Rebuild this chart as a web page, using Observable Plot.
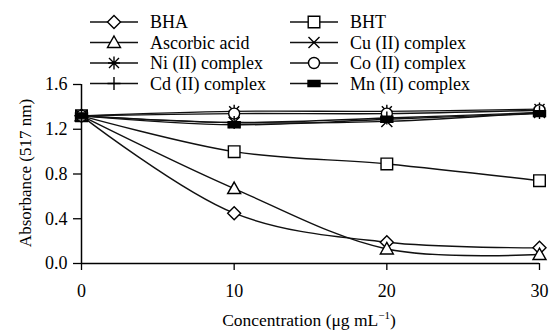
<!DOCTYPE html>
<html>
<head>
<meta charset="utf-8">
<script src="https://cdn.jsdelivr.net/npm/d3@7"></script>
<script src="https://cdn.jsdelivr.net/npm/@observablehq/plot@0.6"></script>
<style>
  html, body { margin: 0; padding: 0; background: #fff; }
  #wrap { position: relative; width: 549px; height: 330px; font-family: 'Liberation Serif', serif; }
  #wrap svg { position: absolute; left: 0; top: 0; }
</style>
</head>
<body>
<div id="wrap"></div>
<script>
// ---- data ----
const concentration = [0, 10, 20, 30];
const seriesNames = ["BHA", "BHT", "Ascorbic acid", "Cu (II) complex", "Ni (II) complex", "Co (II) complex", "Cd (II) complex", "Mn (II) complex"];
const bha      = [1.32, 0.45, 0.19, 0.14];
const bht      = [1.32, 1.00, 0.89, 0.74];
const ascorbic = [1.32, 0.67, 0.13, 0.08];
const cu       = [1.32, 1.26, 1.27, 1.35];
const ni       = [1.32, 1.36, 1.36, 1.38];
const co       = [1.32, 1.34, 1.34, 1.37];
const cd       = [1.32, 1.26, 1.30, 1.35];
const mn       = [1.32, 1.24, 1.29, 1.34];
const seriesValues = [bha, bht, ascorbic, cu, ni, co, cd, mn];
const yTicks = [0, 0.4, 0.8, 1.2, 1.6];
const xTicks = [0, 10, 20, 30];
const legendCol1 = ["BHA", "Ascorbic acid", "Ni (II) complex", "Cd (II) complex"];
const legendCol2 = ["BHT", "Cu (II) complex", "Co (II) complex", "Mn (II) complex"];

const data = [];
seriesNames.forEach((name, i) => {
  concentration.forEach((c, j) => data.push({series: name, x: c, y: seriesValues[i][j]}));
});

// ---- custom marker shapes ----
const R = 6;
const sc = size => Math.sqrt(size / Math.PI) / R;
const symDiamond = {draw(p, s) { const k = sc(s); p.moveTo(0, -6.5*k); p.lineTo(6.5*k, 0); p.lineTo(0, 6.5*k); p.lineTo(-6.5*k, 0); p.closePath(); }};
const symSquare = {draw(p, s) { const k = sc(s), h = 5.8*k; p.moveTo(-h, -h); p.lineTo(h, -h); p.lineTo(h, h); p.lineTo(-h, h); p.closePath(); }};
const symTriangle = {draw(p, s) { const k = sc(s); p.moveTo(0, -6.5*k); p.lineTo(6.5*k, 5*k); p.lineTo(-6.5*k, 5*k); p.closePath(); }};
const symTimes = {draw(p, s) { const k = sc(s), h = 5.5*k; p.moveTo(-h, -h); p.lineTo(h, h); p.moveTo(h, -h); p.lineTo(-h, h); }};
const symAsterisk = {draw(p, s) { const k = sc(s); p.moveTo(0, -6.5*k); p.lineTo(0, 6.5*k); p.moveTo(-5*k, -5*k); p.lineTo(5*k, 5*k); p.moveTo(5*k, -5*k); p.lineTo(-5*k, 5*k); p.moveTo(-6*k, 0); p.lineTo(6*k, 0); }};
const symCircle = {draw(p, s) { const k = sc(s), r = 5.5*k; p.moveTo(r, 0); p.arc(0, 0, r, 0, 2*Math.PI); p.closePath(); }};
const symPlus = {draw(p, s) { const k = sc(s); p.moveTo(0, -6.5*k); p.lineTo(0, 6.5*k); p.moveTo(-6.5*k, 0); p.lineTo(6.5*k, 0); }};
const symRect = {draw(p, s) { const k = sc(s); p.moveTo(-6*k, -3*k); p.lineTo(6*k, -3*k); p.lineTo(6*k, 3*k); p.lineTo(-6*k, 3*k); p.closePath(); }};
const symbolRange = [symDiamond, symSquare, symTriangle, symTimes, symAsterisk, symCircle, symPlus, symRect];
const fillOf = name => name === "Mn (II) complex" ? "black" : "white";

const font = "'Liberation Serif', serif";

const chart = Plot.plot({
  width: 549,
  height: 330,
  marginLeft: 81,
  marginRight: 10,
  marginTop: 84,
  marginBottom: 67,
  style: {fontFamily: font, fontSize: "18px", color: "black", background: "transparent"},
  x: {domain: [0, 30]},
  y: {domain: [0, 1.6]},
  symbol: {domain: seriesNames, range: symbolRange},
  color: {type: "identity"},
  marks: [
    Plot.axisX({ticks: xTicks, tickSize: 7, tickPadding: 14, label: null, fontSize: 18, strokeWidth: 1.3}),
    Plot.axisY({ticks: yTicks, tickFormat: d3.format(".1f"), tickSize: 8, tickPadding: 6, label: null, fontSize: 18, strokeWidth: 1.3}),
    Plot.ruleX([0], {stroke: "black", strokeWidth: 1.5}),
    Plot.ruleY([0], {stroke: "black", strokeWidth: 1.5}),
    Plot.line(data, {x: "x", y: "y", z: "series", curve: "catmull-rom", stroke: "#111", strokeWidth: 1.4}),
    Plot.dot(data, {x: "x", y: "y", symbol: "series", r: R, fill: d => fillOf(d.series), stroke: "black", strokeWidth: 1.4})
  ]
});

const wrap = document.getElementById("wrap");
wrap.appendChild(chart);

// axis titles
const svg = d3.select(chart);
svg.append("text")
  .attr("transform", "translate(25,173) rotate(-90)")
  .attr("text-anchor", "middle")
  .attr("dy", "0.35em")
  .style("font-family", font)
  .attr("font-size", 17)
  .attr("fill", "black")
  .text("Absorbance (517 nm)");
const xt = svg.append("text")
  .attr("x", 309)
  .attr("y", 326)
  .attr("text-anchor", "middle")
  .style("font-family", font)
  .attr("font-size", 17.5)
  .attr("fill", "black");
xt.append("tspan").text("Concentration (μg mL");
xt.append("tspan").attr("dy", -7).attr("font-size", 11).text("−1");
xt.append("tspan").attr("dy", 7).text(")");

// legend overlay
const leg = d3.select(wrap).append("svg")
  .attr("width", 549).attr("height", 100)
  .style("pointer-events", "none");
const rowY = [22, 42.5, 63, 83.5];
const cols = [
  {names: legendCol1, x0: 90, x1: 138, tx: 150},
  {names: legendCol2, x0: 290, x1: 338, tx: 350}
];
cols.forEach(col => {
  col.names.forEach((name, i) => {
    const y = rowY[i];
    const g = leg.append("g");
    g.append("line").attr("x1", col.x0).attr("x2", col.x1).attr("y1", y).attr("y2", y)
      .attr("stroke", "#111").attr("stroke-width", 1.5);
    const p = d3.path();
    symbolRange[seriesNames.indexOf(name)].draw(p, Math.PI * R * R);
    g.append("path").attr("d", p.toString())
      .attr("transform", `translate(${(col.x0 + col.x1) / 2},${y})`)
      .attr("fill", fillOf(name)).attr("stroke", "black").attr("stroke-width", 1.4);
    g.append("text").attr("x", col.tx).attr("y", y).attr("dy", "0.35em")
      .style("font-family", font).attr("font-size", 18).attr("fill", "black")
      .text(name);
  });
});
</script>
</body>
</html>
